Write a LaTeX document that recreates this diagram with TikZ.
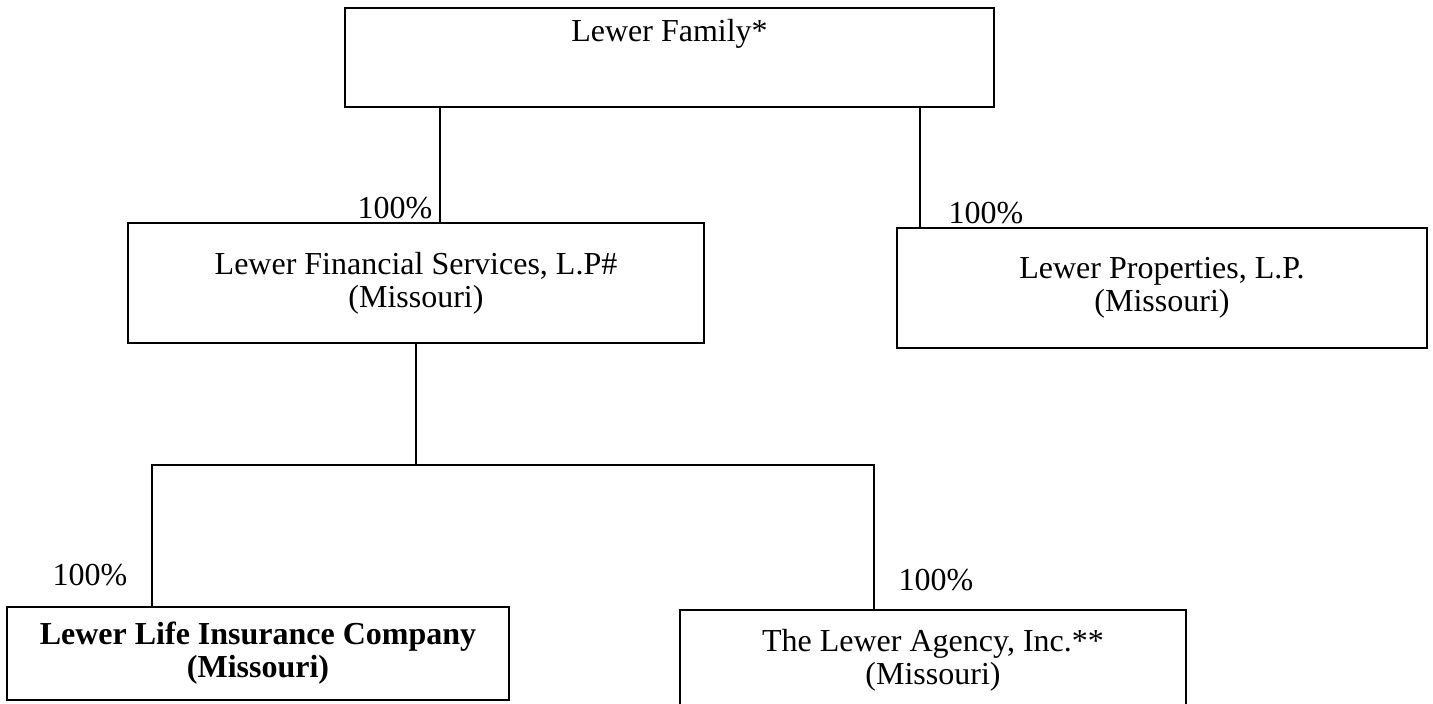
\documentclass[tikz,border=0pt]{standalone}
\usepackage{fontspec}
\setmainfont{Liberation Serif}
\usetikzlibrary{positioning}

\begin{document}
\begin{tikzpicture}[x=0.01cm, y=-0.01cm,
    every node/.style={font=\fontsize{9.1}{9.4}\selectfont},
    entbox/.style={draw, line width=0.65pt, rectangle, align=center, inner sep=0pt},
    pct/.style={inner sep=0pt},
    link/.style={line width=0.5pt}]
  % Canvas 1433x704
  \useasboundingbox (0,0) rectangle (1433,704);
  \clip (0,0) rectangle (1433,704);
  \fill[white] (0,0) rectangle (1433,704);
  % Owners
  \node[entbox, minimum width=6.49cm, text height=0.34cm, text depth=0.65cm] (family) at (669.5,57.5) {Lewer Family*};
  % Second level
  \node[entbox, minimum width=5.76cm, minimum height=1.20cm] (fin) at (416,283) {Lewer Financial Services, L.P\#\\(Missouri)};
  \node[entbox, minimum width=5.30cm, minimum height=1.20cm] (prop) at (1162,288) {Lewer Properties, L.P.\\(Missouri)};
  % Third level
  \node[entbox, minimum width=5.02cm, minimum height=0.93cm, font=\fontsize{9.1}{9.4}\selectfont\bfseries] (life) at (258,653.5) {Lewer Life Insurance Company\\(Missouri)};
  \node[entbox, minimum width=5.06cm, minimum height=1.00cm] (agency) at (933,660) {The Lewer Agency, Inc.**\\(Missouri)};
  % Ownership lines
  \coordinate (tl) at (440,0);
  \coordinate (tr) at (920,0);
  \draw[link] (tl |- family.south) -- (tl |- fin.north);
  \draw[link] (tr |- family.south) -- (tr |- prop.north);
  \coordinate (busL) at (152,465);
  \coordinate (busR) at (874,465);
  \draw[link] (fin.south) -- (fin.south |- busL);
  \draw[link] (life.north -| busL) -- (busL) -- (busR) -- (agency.north -| busR);
  % Percentages
  \node[pct, anchor=base east] (pfin) at (433,219) {100\%};
  \node[pct, anchor=base west] (pprop) at (948,224) {100\%};
  \node[pct, anchor=base east] (plife) at (128,586) {100\%};
  \node[pct, anchor=base west] (pagency) at (898,591) {100\%};
\end{tikzpicture}
\end{document}
